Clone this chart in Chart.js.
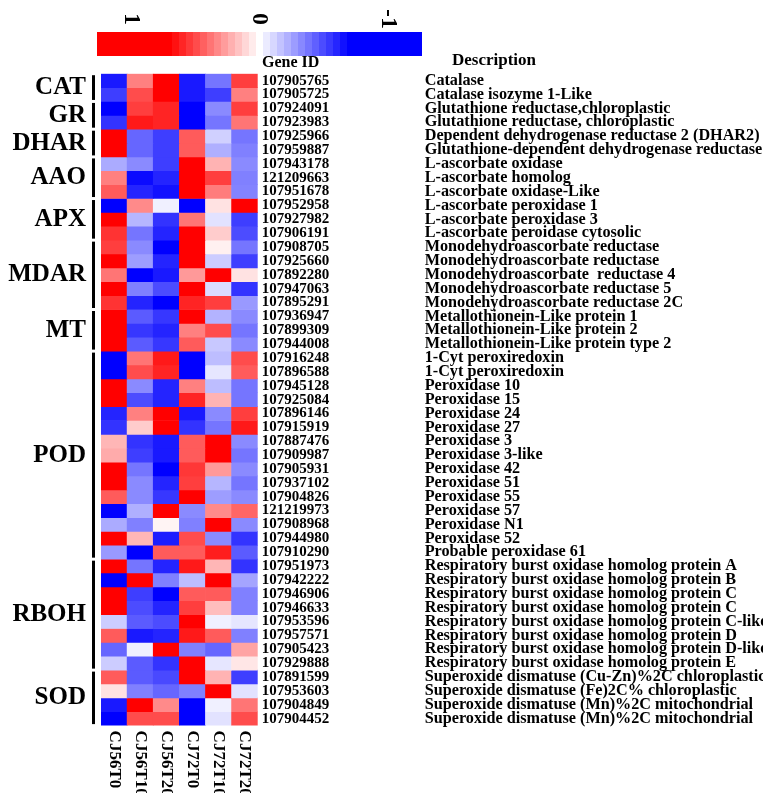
<!DOCTYPE html>
<html>
<head>
<meta charset="utf-8">
<script src="https://cdn.jsdelivr.net/npm/chart.js@4/dist/chart.umd.min.js"></script>
<style>
  html, body { margin: 0; padding: 0; background: #ffffff; }
  canvas { display: block; }
</style>
</head>
<body>
<canvas id="heatmap" width="763" height="793"></canvas>
<script>
// Sample columns (cultivar x time point)
const columns = ['CJ56T0', 'CJ56T10', 'CJ56T20', 'CJ72T0', 'CJ72T10', 'CJ72T20'];

// Gene IDs, top to bottom
const geneIds = [
  '107905765', '107905725', '107924091', '107923983', '107925966', '107959887',
  '107943178', '121209663', '107951678', '107952958', '107927982', '107906191',
  '107908705', '107925660', '107892280', '107947063', '107895291', '107936947',
  '107899309', '107944008', '107916248', '107896588', '107945128', '107925084',
  '107896146', '107915919', '107887476', '107909987', '107905931', '107937102',
  '107904826', '121219973', '107908968', '107944980', '107910290', '107951973',
  '107942222', '107946906', '107946633', '107953596', '107957571', '107905423',
  '107929888', '107891599', '107953603', '107904849', '107904452'
];

// Gene descriptions, same order
const descriptions = [
  'Catalase', 'Catalase isozyme 1-Like',
  'Glutathione reductase,chloroplastic', 'Glutathione reductase, chloroplastic',
  'Dependent dehydrogenase reductase 2 (DHAR2)', 'Glutathione-dependent dehydrogenase reductase',
  'L-ascorbate oxidase', 'L-ascorbate homolog', 'L-ascorbate oxidase-Like',
  'L-ascorbate peroxidase 1', 'L-ascorbate peroxidase 3', 'L-ascorbate peroidase cytosolic',
  'Monodehydroascorbate reductase', 'Monodehydroascorbate reductase',
  'Monodehydroascorbate  reductase 4', 'Monodehydroascorbate reductase 5',
  'Monodehydroascorbate reductase 2C',
  'Metallothionein-Like protein 1', 'Metallothionein-Like protein 2',
  'Metallothionein-Like protein type 2',
  '1-Cyt peroxiredoxin', '1-Cyt peroxiredoxin', 'Peroxidase 10', 'Peroxidase 15',
  'Peroxidase 24', 'Peroxidase 27', 'Peroxidase 3', 'Peroxidase 3-like', 'Peroxidase 42',
  'Peroxidase 51', 'Peroxidase 55', 'Peroxidase 57', 'Peroxidase N1', 'Peroxidase 52',
  'Probable peroxidase 61',
  'Respiratory burst oxidase homolog protein A', 'Respiratory burst oxidase homolog protein B',
  'Respiratory burst oxidase homolog protein C', 'Respiratory burst oxidase homolog protein C',
  'Respiratory burst oxidase homolog protein C-like', 'Respiratory burst oxidase homolog protein D',
  'Respiratory burst oxidase homolog protein D-like', 'Respiratory burst oxidase homolog protein E',
  'Superoxide dismatuse (Cu-Zn)%2C chloroplastic', 'Superoxide dismatuse (Fe)2C% chloroplastic',
  'Superoxide dismatuse (Mn)%2C mitochondrial', 'Superoxide dismatuse (Mn)%2C mitochondrial'
];

// Enzyme families and how many consecutive genes each covers
const groupNames = ['CAT', 'GR', 'DHAR', 'AAO', 'APX', 'MDAR', 'MT', 'POD', 'RBOH', 'SOD'];
const groupSizes = [2, 2, 2, 3, 3, 5, 3, 15, 8, 4];

// Scaled expression, one row per gene, one entry per column
const expression = [
  [-0.63, 0.35, 0.9, -0.63, -0.38, 0.53],
  [-0.53, 0.49, 0.9, -0.63, -0.53, 0.35],
  [-0.9, 0.53, 0.6, -0.9, -0.32, 0.53],
  [-0.56, 0.63, 0.6, -0.9, -0.38, 0.38],
  [0.9, -0.42, -0.53, 0.45, -0.13, -0.38],
  [0.9, -0.42, -0.53, 0.45, -0.22, -0.35],
  [-0.23, -0.32, -0.53, 0.9, 0.21, -0.32],
  [0.35, -0.67, -0.6, 0.9, 0.53, -0.35],
  [0.45, -0.6, -0.65, 0.9, 0.36, -0.34],
  [-0.9, 0.32, -0.04, -0.9, 0.08, 0.9],
  [0.9, -0.2, -0.56, 0.38, -0.08, -0.53],
  [0.56, -0.38, -0.6, 0.9, 0.14, -0.49],
  [0.53, -0.32, -0.9, 0.9, 0.04, -0.38],
  [0.9, -0.27, -0.6, 0.9, -0.14, -0.53],
  [0.38, -0.9, -0.63, 0.28, 0.9, 0.08],
  [0.9, -0.35, -0.49, 0.9, -0.1, -0.56],
  [0.56, -0.6, -0.9, 0.6, 0.53, -0.28],
  [0.9, -0.45, -0.55, 0.9, -0.21, -0.32],
  [0.9, -0.55, -0.6, 0.35, 0.49, -0.38],
  [0.9, -0.45, -0.55, 0.45, -0.15, -0.32],
  [-0.9, 0.38, 0.63, -0.9, -0.18, 0.49],
  [-0.9, 0.49, 0.6, -0.9, -0.07, 0.45],
  [0.9, -0.32, -0.6, 0.35, -0.18, -0.38],
  [0.9, -0.49, -0.6, 0.6, 0.21, -0.38],
  [-0.6, 0.35, 0.9, -0.63, -0.32, 0.53],
  [-0.56, 0.14, 0.9, -0.56, -0.38, 0.63],
  [0.2, -0.56, -0.63, 0.45, 0.9, -0.32],
  [0.23, -0.53, -0.63, 0.45, 0.9, -0.38],
  [0.9, -0.38, -0.9, 0.55, 0.28, -0.32],
  [0.9, -0.32, -0.6, 0.53, -0.2, -0.38],
  [0.45, -0.32, -0.55, 0.9, -0.27, -0.32],
  [-0.9, -0.22, 0.9, -0.32, 0.32, 0.42],
  [-0.23, -0.35, 0.03, -0.35, 0.9, -0.32],
  [0.9, 0.2, -0.62, 0.49, -0.32, -0.56],
  [-0.28, -0.9, 0.45, 0.45, 0.62, -0.45],
  [0.9, -0.38, -0.6, 0.63, 0.2, -0.56],
  [-0.9, 0.9, -0.35, -0.18, 0.9, -0.25],
  [0.9, -0.53, -0.9, 0.45, 0.45, -0.35],
  [0.9, -0.49, -0.6, 0.53, 0.18, -0.35],
  [-0.14, -0.45, -0.49, 0.9, -0.04, -0.07],
  [0.45, -0.63, -0.6, 0.63, 0.45, -0.35],
  [-0.42, -0.04, 0.9, -0.35, -0.42, 0.25],
  [-0.14, -0.45, -0.56, 0.9, -0.07, 0.07],
  [0.45, -0.45, -0.5, 0.9, 0.21, -0.53],
  [0.08, -0.35, -0.42, -0.35, 0.9, -0.08],
  [-0.63, 0.9, 0.32, -0.9, -0.04, 0.38],
  [-0.9, 0.49, 0.49, -0.9, -0.08, 0.49]
];

// Colour key tick labels and their values
const keyLabels = ['1', '0', '-1'];
const keyValues = [1, 0, -1];

const SERIF = '"Liberation Serif", "Times New Roman", serif';
const SATURATION = 0.7;

// Diverging white-centred scale: red for positive, blue for negative
function cellColor(v) {
  const t = Math.min(Math.abs(v) / SATURATION, 1);
  const c = Math.round(255 * (1 - t));
  return v >= 0 ? `rgb(255,${c},${c})` : `rgb(${c},${c},255)`;
}

// One stacked dataset per gene row; each cell is one unit tall
const datasets = expression.map((row, r) => ({
  label: geneIds[r],
  data: row.map(() => 1),
  backgroundColor: row.map(cellColor),
  borderWidth: 0,
  barPercentage: 1,
  categoryPercentage: 1,
  stack: 'rows'
}));

// Family labels, brackets, column names and colour key
const decorations = {
  id: 'decorations',
  afterDraw(chart) {
    const { ctx, scales: { x, y } } = chart;
    ctx.save();
    ctx.fillStyle = '#000';

    // header captions
    ctx.font = `bold 16px ${SERIF}`;
    ctx.textAlign = 'left';
    ctx.textBaseline = 'middle';
    ctx.fillText('Gene ID', 262, 63);
    ctx.font = `bold 17px ${SERIF}`;
    ctx.fillText('Description', 452, 61);

    // enzyme family brackets and names
    let start = 0;
    groupNames.forEach((name, g) => {
      const end = start + groupSizes[g];
      const top = y.getPixelForValue(start);
      const bottom = y.getPixelForValue(end);
      ctx.strokeStyle = '#000';
      ctx.lineWidth = 3;
      ctx.beginPath();
      ctx.moveTo(93.5, top + 1.5);
      ctx.lineTo(93.5, bottom - 1.5);
      ctx.stroke();
      ctx.font = `bold 25px ${SERIF}`;
      ctx.textAlign = 'right';
      ctx.textBaseline = 'middle';
      ctx.fillText(name, 86, (top + bottom) / 2);
      start = end;
    });

    // column names, rotated to read downward
    ctx.font = `bold 17px ${SERIF}`;
    columns.forEach((col, i) => {
      ctx.save();
      ctx.translate(x.getPixelForValue(i), y.getPixelForValue(expression.length) + 5);
      ctx.rotate(Math.PI / 2);
      ctx.textAlign = 'left';
      ctx.textBaseline = 'middle';
      ctx.fillText(col, 0, 0);
      ctx.restore();
    });

    // colour key: stepped gradient bar
    const keyLeft = 97, keyRight = 422, keyTop = 32, keyBottom = 56;
    const keyZero = 259.5, keyUnit = 128.5;
    const step = 7 / keyUnit;
    for (let px = keyLeft; px < keyRight; px++) {
      const raw = (keyZero - (px + 0.5)) / keyUnit;
      const v = Math.round(raw / step) * step;
      ctx.fillStyle = cellColor(v);
      ctx.fillRect(px, keyTop, 1, keyBottom - keyTop);
    }
    ctx.fillStyle = '#000';
    ctx.font = `bold 24px ${SERIF}`;
    keyLabels.forEach((lab, i) => {
      ctx.save();
      ctx.translate(keyZero - keyValues[i] * keyUnit, 19);
      ctx.rotate(Math.PI / 2);
      ctx.textAlign = 'center';
      ctx.textBaseline = 'middle';
      ctx.fillText(lab, 0, 0);
      ctx.restore();
    });

    ctx.restore();
  }
};

const tickFont = (size) => ({ family: SERIF, size, weight: 'bold' });

new Chart(document.getElementById('heatmap'), {
  type: 'bar',
  data: { labels: columns, datasets },
  options: {
    responsive: false,
    animation: false,
    layout: { padding: { left: 101, top: 73.7, bottom: 67.4, right: 0 } },
    plugins: { legend: { display: false }, tooltip: { enabled: false } },
    scales: {
      x: { type: 'category', stacked: true, offset: true, display: false },
      y: {
        type: 'linear', stacked: true, reverse: true,
        min: 0, max: expression.length, display: false
      },
      genes: {
        type: 'category', axis: 'y', position: 'right', weight: 0,
        labels: geneIds, offset: true,
        grid: { display: false, drawTicks: false },
        border: { display: false },
        ticks: { autoSkip: false, padding: 4, color: '#000', font: tickFont(15) },
        afterFit(scale) { scale.width = 163; }
      },
      desc: {
        type: 'category', axis: 'y', position: 'right', weight: 1,
        labels: descriptions, offset: true,
        grid: { display: false, drawTicks: false },
        border: { display: false },
        ticks: { autoSkip: false, padding: 4, color: '#000', font: tickFont(16.2) },
        afterFit(scale) { scale.width = 342.3; }
      }
    }
  },
  plugins: [decorations]
});
</script>
</body>
</html>
